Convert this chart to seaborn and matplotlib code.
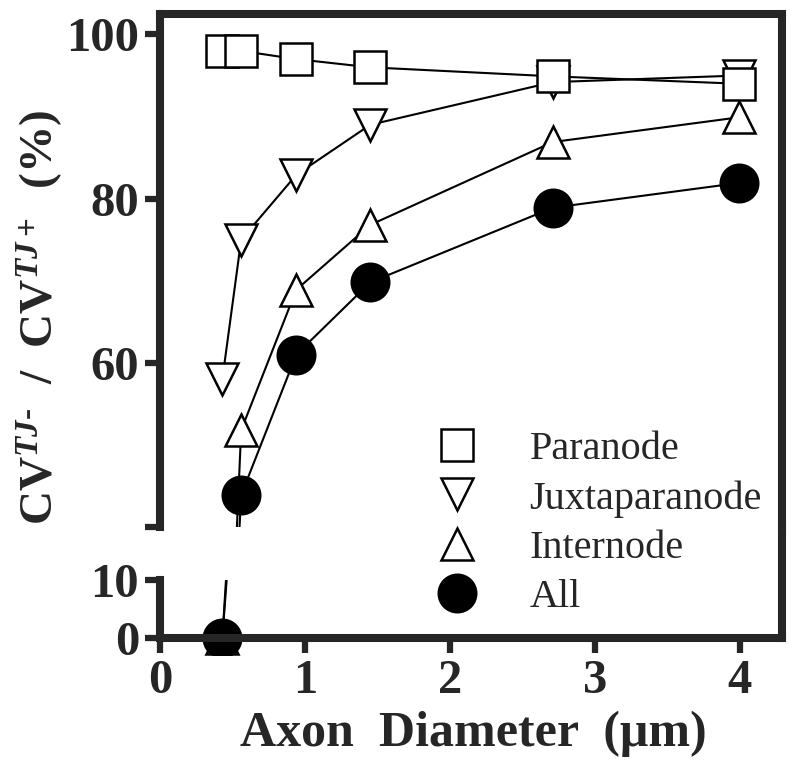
import matplotlib
matplotlib.use("Agg")
import matplotlib.pyplot as plt
from matplotlib.lines import Line2D
import seaborn as sns

# values
diameter = [0.43, 0.56, 0.94, 1.45, 2.71, 3.99]
paranode = [98.0, 98.0, 97.0, 96.0, 94.9, 94.0]
juxtaparanode = [58.0, 75.0, 82.9, 89.0, 94.2, 95.0]
internode = [0.0, 51.8, 68.9, 76.8, 86.9, 89.9]
all_sites = [0.0, 43.9, 61.0, 69.8, 78.9, 81.9]

series_names = ["Paranode", "Juxtaparanode", "Internode", "All"]
draw_order = ["Internode", "Juxtaparanode", "All", "Paranode"]
upper_ticks = [40, 60, 80, 100]
upper_tick_labels = ["", "60", "80", "100"]
lower_ticks = [0, 10]
x_ticks = [0, 1, 2, 3, 4]

sns.set_style("ticks")
plt.rcParams["font.family"] = ["Liberation Serif", "DejaVu Serif"]
plt.rcParams["font.weight"] = "bold"
plt.rcParams["mathtext.fontset"] = "custom"
plt.rcParams["mathtext.rm"] = "Liberation Serif:bold"
plt.rcParams["mathtext.it"] = "Liberation Serif:italic:bold"
plt.rcParams["mathtext.bf"] = "Liberation Serif:bold"

SPINE_W = 5.8
TICK_FS = 35

styles = {
    "Paranode": dict(marker="s", markersize=23, markerfacecolor="white"),
    "Juxtaparanode": dict(marker="v", markersize=23, markerfacecolor="white"),
    "Internode": dict(marker="^", markersize=23, markerfacecolor="white"),
    "All": dict(marker="o", markersize=27, markerfacecolor="black"),
}
values = {
    "Paranode": paranode,
    "Juxtaparanode": juxtaparanode,
    "Internode": internode,
    "All": all_sites,
}

fig = plt.figure(figsize=(8, 7.72), dpi=100)
ax_top = fig.add_axes([0.2, 0.3174, 0.7775, 0.6645])
ax_bot = fig.add_axes([0.2, 0.151, 0.7775, 0.0977])

for ax in (ax_top, ax_bot):
    for name in draw_order:
        sns.lineplot(
            x=diameter, y=values[name], ax=ax, color="black", linewidth=1.5,
            markeredgecolor="black", markeredgewidth=1.8, sort=False,
            estimator=None, legend=False, **styles[name],
        )
    ax.set_xlim(0, 4.29)
    ax.set_facecolor("none")
    ax.tick_params(width=4.5, length=11, labelsize=TICK_FS, pad=4)
    for side in ("left", "right", "top", "bottom"):
        ax.spines[side].set_linewidth(SPINE_W)

# upper panel
ax_top.set_ylim(40, 102.5)
ax_top.set_yticks(upper_ticks)
ax_top.set_yticklabels(upper_tick_labels)
ax_top.spines["bottom"].set_visible(False)
ax_top.spines["left"].set_bounds(40, 102.5)
ax_top.tick_params(axis="x", bottom=False, labelbottom=False)

# lower panel
ax_bot.set_ylim(-3, 10)
ax_bot.set_yticks(lower_ticks)
ax_bot.spines["bottom"].set_position(("data", 0))
ax_bot.spines["top"].set_visible(False)
ax_bot.spines["left"].set_bounds(0, 10)
ax_bot.spines["right"].set_bounds(0, 19.2)
ax_bot.set_xticks(x_ticks)

handles = [
    Line2D([], [], linestyle="none", color="black", markeredgecolor="black",
           markeredgewidth=1.8, **styles[name])
    for name in series_names
]
fig.legend(
    handles, series_names, loc="upper left", bbox_to_anchor=(0.546, 0.442),
    frameon=False, borderpad=0, borderaxespad=0, handlelength=1.0,
    handletextpad=1.3, labelspacing=0.3,
    prop={"family": "Liberation Serif", "weight": "normal", "size": 29},
)

fig.text(0.05, 0.589, r"CV$^{TJ\text{-}}$  /  CV$^{TJ+}$  (%)",
         rotation=90, ha="center", va="center", fontsize=34, fontweight="bold")
fig.text(0.592, 0.05, "Axon  Diameter  (μm)", ha="center", va="center",
         fontsize=36, fontweight="bold")

fig.savefig("out.png", dpi=100)
